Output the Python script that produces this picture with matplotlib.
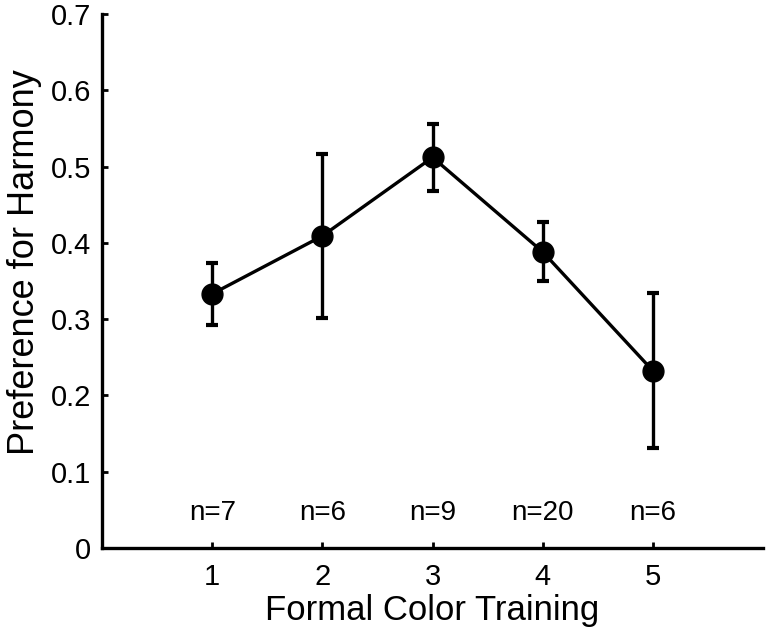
import matplotlib.pyplot as plt
import numpy as np

# values
training = [1, 2, 3, 4, 5]
pref = [0.333, 0.409, 0.512, 0.388, 0.232]
err_hi = [0.373, 0.516, 0.556, 0.427, 0.334]
err_lo = [0.292, 0.301, 0.468, 0.350, 0.131]
n_labels = ['n=7', 'n=6', 'n=9', 'n=20', 'n=6']

plt.rcParams['font.family'] = ['Liberation Sans', 'DejaVu Sans']

fig = plt.figure(figsize=(7.67, 6.37), dpi=100)
ax = fig.add_axes([0.133, 0.140, 0.862, 0.838])

pref = np.array(pref)
yerr = [pref - np.array(err_lo), np.array(err_hi) - pref]
ax.errorbar(training, pref, yerr=yerr, color='black', linewidth=2.4,
            elinewidth=2.4, capsize=4, capthick=3,
            marker='o', markersize=15)

for x, lab in zip(training, n_labels):
    ax.text(x, 0.046, lab, ha='center', va='center', fontsize=20)

ax.set_xlim(0, 6)
ax.set_ylim(0, 0.7)
ax.set_xticks(training)
ax.set_yticks(np.arange(0, 0.71, 0.1))
ax.set_yticklabels(['0', '0.1', '0.2', '0.3', '0.4', '0.5', '0.6', '0.7'])

ax.spines['top'].set_visible(False)
ax.spines['right'].set_visible(False)
for s in ['left', 'bottom']:
    ax.spines[s].set_linewidth(2.4)
ax.tick_params(direction='in', length=4, width=2, labelsize=21)
ax.tick_params(axis='x', pad=11)
ax.tick_params(axis='y', pad=8)

ax.set_xlabel('Formal Color Training', fontsize=25, labelpad=2)
ax.set_ylabel('Preference for Harmony', fontsize=26, labelpad=6)
ax.yaxis.label.set_y(0.535)

fig.savefig('out.png', dpi=100)
